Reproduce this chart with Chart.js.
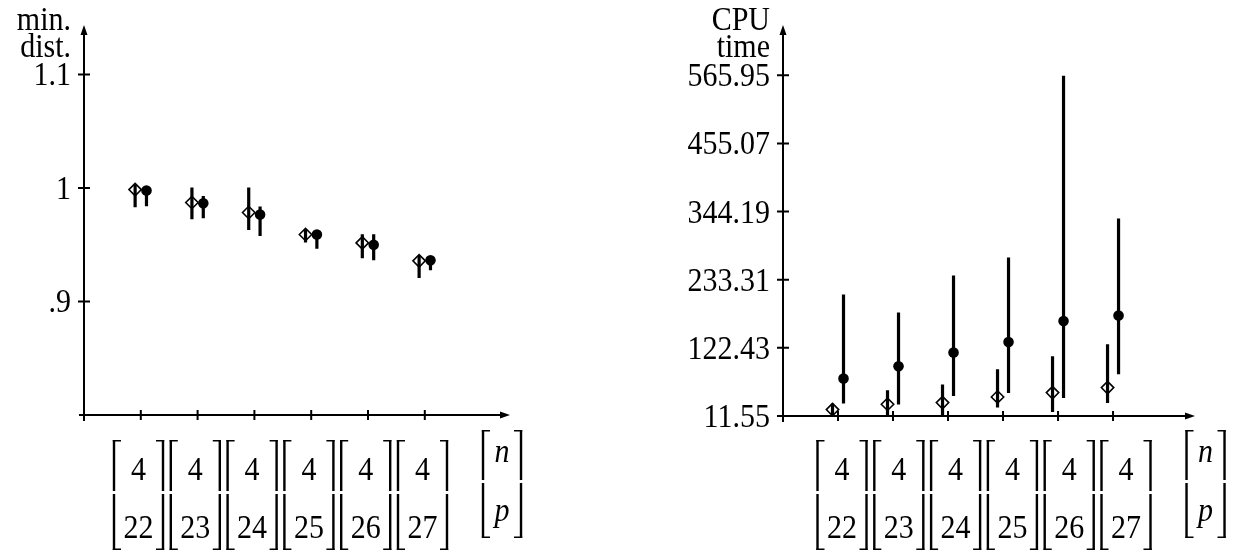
<!DOCTYPE html>
<html>
<head>
<meta charset="utf-8">
<script src="https://cdn.jsdelivr.net/npm/chart.js@4.4.1/dist/chart.umd.min.js"></script>
<style>
body{margin:0;background:#fff;}
#wrap{position:relative;width:1240px;height:552px;}
canvas{position:absolute;top:0;}
</style>
</head>
<body>
<div id="wrap">
<canvas id="distChart" width="620" height="552" style="left:0"></canvas>
<canvas id="cpuChart" width="620" height="552" style="left:620px"></canvas>
</div>
<script>
// categories: [n ; p] pairs
const groups = [1, 2, 3, 4, 5, 6]
const nLabels = ['4', '4', '4', '4', '4', '4']
const pLabels = ['22', '23', '24', '25', '26', '27']

// left: min. dist.
const distTicks = [0.9, 1, 1.1]
const distTickLabels = ['.9', '1', '1.1']
const distDiamond = [0.9986, 0.9872, 0.9784, 0.9590, 0.9516, 0.9358]
const distDiamondLow = [0.9830, 0.9725, 0.9630, 0.9520, 0.9382, 0.9206]
const distDiamondHigh = [1.0031, 1.0004, 1.0004, 0.9637, 0.9593, 0.9400]
const distCircle = [0.9977, 0.9865, 0.9766, 0.9590, 0.9500, 0.9364]
const distCircleLow = [0.9840, 0.9733, 0.9578, 0.9465, 0.9364, 0.9276]
const distCircleHigh = [0.9990, 0.9930, 0.9836, 0.9610, 0.9593, 0.9390]

// right: CPU time
const cpuTicks = [11.55, 122.43, 233.31, 344.19, 455.07, 565.95]
const cpuTickLabels = ['11.55', '122.43', '233.31', '344.19', '455.07', '565.95']
const cpuDiamond = [21.97, 30.6, 33.4, 42.5, 49.6, 57.8]
const cpuDiamondLow = [11.8, 11.8, 11.8, 25.2, 18.1, 32.7]
const cpuDiamondHigh = [31.7, 53.4, 62.7, 87.6, 108.8, 128.3]
const cpuCircle = [72.4, 92.5, 114.8, 132.0, 166.2, 175.0]
const cpuCircleLow = [31.7, 30.1, 44.1, 49.0, 40.9, 79.4]
const cpuCircleHigh = [209.2, 179.9, 240.1, 269.4, 565.1, 333.0]

const FONT = "30px 'Liberation Serif', 'Times New Roman', serif"
const IFONT = "italic 30px 'Liberation Serif', 'Times New Roman', serif"
const STRETCH = 1.1

function txt(ctx, s, x, y, align, font) {
	ctx.save()
	ctx.font = font || FONT
	ctx.textAlign = align
	ctx.textBaseline = 'alphabetic'
	ctx.translate(x, y)
	ctx.scale(1, STRETCH)
	ctx.fillText(s, 0, 0)
	ctx.restore()
}

function bracket(ctx, cx, half, top, bottom) {
	const mid = (top + bottom) / 2
	ctx.lineWidth = 2.4
	ctx.beginPath()
	;[cx - half, cx + half].forEach(x => {
		ctx.moveTo(x, top); ctx.lineTo(x, mid - 4)
		ctx.moveTo(x, mid - 1); ctx.lineTo(x, bottom)
	})
	ctx.stroke()
	ctx.lineWidth = 1.6
	ctx.beginPath()
	ctx.moveTo(cx - half - 1.2, top + 0.8); ctx.lineTo(cx - half + 7, top + 0.8)
	ctx.moveTo(cx - half - 1.2, bottom - 0.8); ctx.lineTo(cx - half + 7, bottom - 0.8)
	ctx.moveTo(cx + half + 1.2, top + 0.8); ctx.lineTo(cx + half - 7, top + 0.8)
	ctx.moveTo(cx + half + 1.2, bottom - 0.8); ctx.lineTo(cx + half - 7, bottom - 0.8)
	ctx.stroke()
}

const texAxes = {
	id: 'texAxes',
	afterDraw(chart, args, o) {
		const ctx = chart.ctx, a = chart.chartArea
		const xs = chart.scales.x, ys = chart.scales.y
		ctx.save()
		ctx.strokeStyle = '#000'
		ctx.fillStyle = '#000'
		ctx.lineWidth = 2
		ctx.beginPath()
		ctx.moveTo(a.left - 5, a.bottom); ctx.lineTo(a.right - 6, a.bottom)
		ctx.moveTo(a.left, a.bottom + 6); ctx.lineTo(a.left, a.top + 6)
		groups.forEach(g => {
			const px = xs.getPixelForValue(g)
			ctx.moveTo(px, a.bottom - 5); ctx.lineTo(px, a.bottom + 5)
		})
		o.ticks.forEach(v => {
			const py = ys.getPixelForValue(v)
			ctx.moveTo(a.left - 6, py); ctx.lineTo(a.left + 6, py)
		})
		ctx.stroke()

		// arrow heads
		ctx.beginPath()
		ctx.moveTo(a.right, a.bottom); ctx.lineTo(a.right - 10, a.bottom - 3.5); ctx.lineTo(a.right - 10, a.bottom + 3.5); ctx.closePath()
		ctx.moveTo(a.left, a.top); ctx.lineTo(a.left - 3.5, a.top + 10); ctx.lineTo(a.left + 3.5, a.top + 10); ctx.closePath()
		ctx.fill()

		o.ticks.forEach((v, i) => {
			txt(ctx, o.tickLabels[i], a.left - 13, ys.getPixelForValue(v) + 11, 'right')
		})
		txt(ctx, o.title[0], a.left - 13, 30, 'right')
		txt(ctx, o.title[1], a.left - 13, 57, 'right')

		const first = xs.getPixelForValue(groups[0]) + o.labelShift
		groups.forEach((g, i) => {
			const cx = first + i * o.labelPitch
			bracket(ctx, cx, 24.5, 440, 550)
			txt(ctx, nLabels[i], cx, 480, 'center')
			txt(ctx, pLabels[i], cx, 538, 'center')
		})
		const ncx = first + 6.4 * o.labelPitch
		bracket(ctx, ncx, 19, 430, 538)
		txt(ctx, 'n', ncx, 462, 'center', IFONT)
		txt(ctx, 'p', ncx, 521, 'center', IFONT)
		ctx.restore()
	}
}

function errSegments(xv, lo, hi) {
	const out = []
	xv.forEach((x, i) => {
		out.push({x: x, y: lo[i]}, {x: x, y: hi[i]}, {x: x, y: null})
	})
	return out
}

function makeChart(id, c) {
	const dx = groups.map(g => g - 0.1)
	const cx = groups.map(g => g + 0.1)
	return new Chart(document.getElementById(id), {
		type: 'scatter',
		data: {
			datasets: [
				{
					data: cx.map((x, i) => ({x: x, y: c.circle[i]})),
					pointStyle: 'circle',
					pointRadius: 5.3,
					borderWidth: 0,
					backgroundColor: '#000'
				},
				{
					data: dx.map((x, i) => ({x: x, y: c.diamond[i]})),
					pointStyle: 'rectRot',
					pointRadius: 6.2,
					borderWidth: 1.6,
					borderColor: '#000',
					backgroundColor: 'rgba(0,0,0,0)'
				},
				{
					data: errSegments(cx, c.circleLow, c.circleHigh),
					showLine: true,
					borderColor: '#000',
					borderWidth: 3.2,
					borderCapStyle: 'butt',
					pointRadius: 0
				},
				{
					data: errSegments(dx, c.diamondLow, c.diamondHigh),
					showLine: true,
					borderColor: '#000',
					borderWidth: 3.2,
					borderCapStyle: 'butt',
					pointRadius: 0
				}
			]
		},
		options: {
			responsive: false,
			animation: false,
			events: [],
			layout: {padding: c.padding},
			scales: {
				x: {type: 'linear', display: false, min: 0, max: c.xMax},
				y: {type: 'linear', display: false, min: c.yMin, max: c.yMax}
			},
			plugins: {
				legend: {display: false},
				tooltip: {enabled: false},
				texAxes: {
					ticks: c.ticks,
					tickLabels: c.tickLabels,
					title: c.title,
					labelShift: c.labelShift,
					labelPitch: 56.8
				}
			}
		},
		plugins: [texAxes]
	})
}

makeChart('distChart', {
	circle: distCircle, circleLow: distCircleLow, circleHigh: distCircleHigh,
	diamond: distDiamond, diamondLow: distDiamondLow, diamondHigh: distDiamondHigh,
	ticks: distTicks, tickLabels: distTickLabels, title: ['min.', 'dist.'],
	padding: {left: 84, top: 25, right: 110, bottom: 137},
	xMax: 7.5, yMin: 0.8, yMax: 1.1436, labelShift: -2.3
})

makeChart('cpuChart', {
	circle: cpuCircle, circleLow: cpuCircleLow, circleHigh: cpuCircleHigh,
	diamond: cpuDiamond, diamondLow: cpuDiamondLow, diamondHigh: cpuDiamondHigh,
	ticks: cpuTicks, tickLabels: cpuTickLabels, title: ['CPU', 'time'],
	padding: {left: 163, top: 25, right: 45, bottom: 136},
	xMax: 7.49, yMin: 11.55, yMax: 647.8, labelShift: 4
})
</script>
</body>
</html>
